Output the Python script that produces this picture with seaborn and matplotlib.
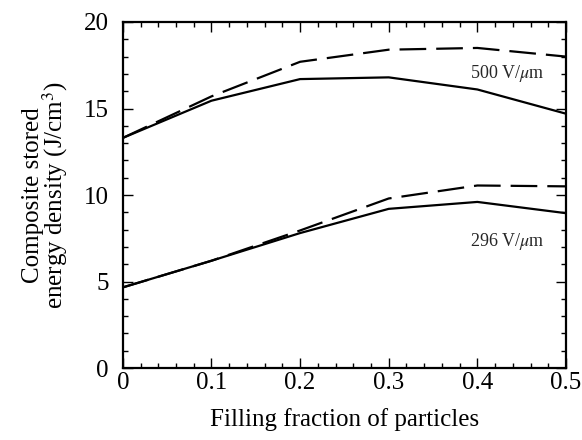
import matplotlib
matplotlib.use("Agg")
import matplotlib.pyplot as plt
import seaborn as sns
import pandas as pd
from matplotlib.ticker import MultipleLocator

sns.set_theme(style="ticks")
plt.rcParams['font.family'] = ['Liberation Serif', 'DejaVu Serif']
plt.rcParams['mathtext.fontset'] = 'stix'

fraction = [0.0, 0.1, 0.2, 0.3, 0.4, 0.5]
solid_500 = [13.3, 15.45, 16.7, 16.8, 16.1, 14.7]
dashed_500 = [13.3, 15.7, 17.7, 18.4, 18.5, 18.0]
solid_296 = [4.66, 6.2, 7.8, 9.2, 9.6, 8.95]
dashed_296 = [4.66, 6.2, 7.95, 9.8, 10.55, 10.5]

rows = []
for name, vals, kind in [("500s", solid_500, "solid"), ("500d", dashed_500, "dashed"),
                         ("296s", solid_296, "solid"), ("296d", dashed_296, "dashed")]:
    for x, y in zip(fraction, vals):
        rows.append({"x": x, "y": y, "series": name, "kind": kind})
df = pd.DataFrame(rows)

fig = plt.figure(figsize=(5.82, 4.4), dpi=100)
ax = fig.add_axes([0.211, 0.1636, 0.7615, 0.7864])

for name in ["500s", "500d", "296s", "296d"]:
    sub = df[df.series == name]
    ls = (0, (12, 4.5)) if sub.kind.iloc[0] == "dashed" else "-"
    sns.lineplot(data=sub, x="x", y="y", ax=ax, color="black", lw=1.6,
                 linestyle=ls, legend=False, sort=False)

ax.set_xlim(0, 0.5)
ax.set_ylim(0, 20)
ax.xaxis.set_major_locator(MultipleLocator(0.1))
ax.xaxis.set_minor_locator(MultipleLocator(0.02))
ax.yaxis.set_major_locator(MultipleLocator(5))
ax.yaxis.set_minor_locator(MultipleLocator(1))
ax.set_xticks([0, 0.1, 0.2, 0.3, 0.4, 0.5])
ax.set_xticklabels(["0", "0.1", "0.2", "0.3", "0.4", "0.5"])
ax.tick_params(which="both", direction="in", top=True, right=True, colors="black",
               labelsize=18, width=1)
ax.tick_params(which="major", length=7)
ax.tick_params(which="minor", length=3.5)
ax.tick_params(axis="x", which="major", pad=3)
ax.tick_params(axis="y", which="major", pad=10)
for s in ax.spines.values():
    s.set_linewidth(1.6)
    s.set_color("black")

ax.set_xlabel("Filling fraction of particles", fontsize=18, color="black", labelpad=10)
ax.set_ylabel("Composite stored\nenergy density (J/cm$^3$)", fontsize=18, color="black",
              labelpad=10, linespacing=0.85)

ax.text(0.4335, 17.0, r"500 V/$\mu$m", fontsize=13, ha="center", va="center")
ax.text(0.4335, 7.3, r"296 V/$\mu$m", fontsize=13, ha="center", va="center")

fig.savefig("out.png", dpi=100)
